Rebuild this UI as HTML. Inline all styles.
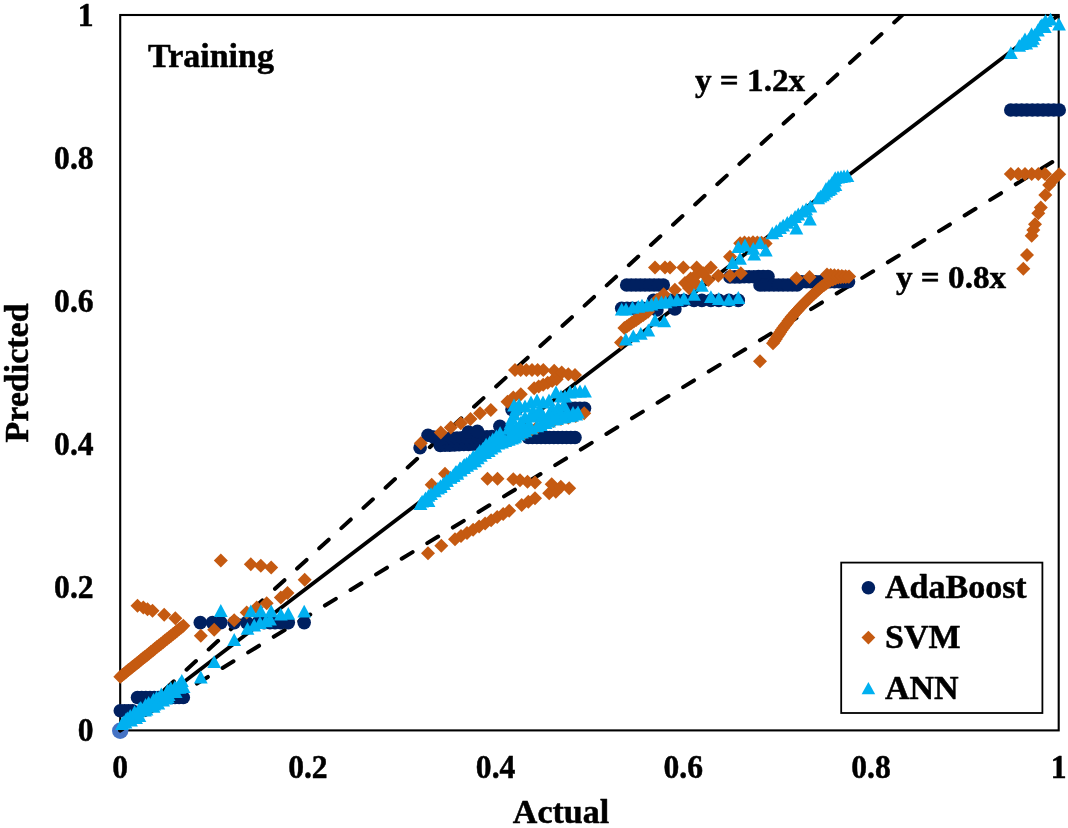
<!DOCTYPE html>
<html><head><meta charset="utf-8"><title>Training</title>
<style>html,body{margin:0;padding:0;background:#fff;}body{width:1068px;height:828px;position:relative;overflow:hidden;font-family:"Liberation Serif",serif;}</style>
</head><body>
<svg width="1068" height="828" viewBox="0 0 1068 828" style="position:absolute;left:0;top:0;will-change:transform">
<rect x="0" y="0" width="1068" height="828" fill="#fff"/>
<rect x="120.2" y="15.0" width="938.5" height="715.4" fill="none" stroke="#000" stroke-width="2.1"/>
<circle cx="120.2" cy="730.6999999999999" r="8.2" fill="#4472C4"/>
<defs><clipPath id="pc"><rect x="111.2" y="15.0" width="956.5" height="724.4"/></clipPath></defs>
<g clip-path="url(#pc)" fill="none" stroke="#000" stroke-linecap="round">
<path d="M120.2 730.4L902.3 15.0" stroke-width="4" stroke-dasharray="12.8 17.17"/>
<path d="M120.2 730.4L1058.7 158.1" stroke-width="4" stroke-dasharray="12.8 17.17"/>
<path d="M120.2 730.4L1058.7 15.0" stroke-width="3.8" stroke-linecap="butt"/>
</g>
<g><circle cx="120.3" cy="710.8" r="6.8" fill="#002060"/><circle cx="124.5" cy="710.8" r="6.8" fill="#002060"/><circle cx="128.5" cy="710.8" r="6.8" fill="#002060"/><circle cx="132.5" cy="710.8" r="6.8" fill="#002060"/><circle cx="137.5" cy="697.5" r="6.8" fill="#002060"/><circle cx="141.7" cy="697.5" r="6.8" fill="#002060"/><circle cx="145.8" cy="697.5" r="6.8" fill="#002060"/><circle cx="150.0" cy="697.5" r="6.8" fill="#002060"/><circle cx="154.2" cy="697.5" r="6.8" fill="#002060"/><circle cx="158.3" cy="697.5" r="6.8" fill="#002060"/><circle cx="162.5" cy="697.5" r="6.8" fill="#002060"/><circle cx="166.6" cy="697.5" r="6.8" fill="#002060"/><circle cx="170.8" cy="697.5" r="6.8" fill="#002060"/><circle cx="175.0" cy="697.5" r="6.8" fill="#002060"/><circle cx="179.1" cy="697.5" r="6.8" fill="#002060"/><circle cx="183.3" cy="697.5" r="6.8" fill="#002060"/><circle cx="200.3" cy="622.6" r="6.8" fill="#002060"/><circle cx="212.5" cy="622.6" r="6.8" fill="#002060"/><circle cx="220.8" cy="622.6" r="6.8" fill="#002060"/><circle cx="234.2" cy="622.6" r="6.8" fill="#002060"/><circle cx="246.7" cy="622.6" r="6.8" fill="#002060"/><circle cx="258.0" cy="622.6" r="6.8" fill="#002060"/><circle cx="264.0" cy="622.6" r="6.8" fill="#002060"/><circle cx="270.0" cy="622.6" r="6.8" fill="#002060"/><circle cx="275.0" cy="622.6" r="6.8" fill="#002060"/><circle cx="280.8" cy="622.6" r="6.8" fill="#002060"/><circle cx="288.3" cy="622.6" r="6.8" fill="#002060"/><circle cx="304.2" cy="622.6" r="6.8" fill="#002060"/><circle cx="420.1" cy="447.7" r="6.8" fill="#002060"/><circle cx="428.0" cy="435.3" r="6.8" fill="#002060"/><circle cx="433.5" cy="437.0" r="6.8" fill="#002060"/><circle cx="439.0" cy="438.5" r="6.8" fill="#002060"/><circle cx="440.3" cy="445.4" r="6.8" fill="#002060"/><circle cx="445.0" cy="445.2" r="6.8" fill="#002060"/><circle cx="449.7" cy="445.1" r="6.8" fill="#002060"/><circle cx="454.4" cy="444.9" r="6.8" fill="#002060"/><circle cx="459.1" cy="444.7" r="6.8" fill="#002060"/><circle cx="463.8" cy="444.5" r="6.8" fill="#002060"/><circle cx="468.5" cy="444.4" r="6.8" fill="#002060"/><circle cx="473.2" cy="444.2" r="6.8" fill="#002060"/><circle cx="477.9" cy="444.0" r="6.8" fill="#002060"/><circle cx="482.6" cy="443.8" r="6.8" fill="#002060"/><circle cx="487.3" cy="443.7" r="6.8" fill="#002060"/><circle cx="492.0" cy="443.5" r="6.8" fill="#002060"/><circle cx="447.0" cy="438.5" r="6.8" fill="#002060"/><circle cx="452.0" cy="438.3" r="6.8" fill="#002060"/><circle cx="457.0" cy="438.1" r="6.8" fill="#002060"/><circle cx="462.0" cy="437.8" r="6.8" fill="#002060"/><circle cx="467.0" cy="437.6" r="6.8" fill="#002060"/><circle cx="472.0" cy="437.4" r="6.8" fill="#002060"/><circle cx="477.0" cy="437.2" r="6.8" fill="#002060"/><circle cx="482.0" cy="436.9" r="6.8" fill="#002060"/><circle cx="487.0" cy="436.7" r="6.8" fill="#002060"/><circle cx="492.0" cy="436.5" r="6.8" fill="#002060"/><circle cx="468.4" cy="432.0" r="6.8" fill="#002060"/><circle cx="477.4" cy="431.4" r="6.8" fill="#002060"/><circle cx="499.9" cy="426.3" r="6.8" fill="#002060"/><circle cx="496.0" cy="440.0" r="6.8" fill="#002060"/><circle cx="503.0" cy="439.5" r="6.8" fill="#002060"/><circle cx="510.0" cy="439.0" r="6.8" fill="#002060"/><circle cx="528.3" cy="437.5" r="6.8" fill="#002060"/><circle cx="532.5" cy="437.5" r="6.8" fill="#002060"/><circle cx="536.8" cy="437.5" r="6.8" fill="#002060"/><circle cx="541.0" cy="437.5" r="6.8" fill="#002060"/><circle cx="545.3" cy="437.5" r="6.8" fill="#002060"/><circle cx="549.5" cy="437.5" r="6.8" fill="#002060"/><circle cx="553.8" cy="437.5" r="6.8" fill="#002060"/><circle cx="558.0" cy="437.5" r="6.8" fill="#002060"/><circle cx="562.3" cy="437.5" r="6.8" fill="#002060"/><circle cx="566.5" cy="437.5" r="6.8" fill="#002060"/><circle cx="570.8" cy="437.5" r="6.8" fill="#002060"/><circle cx="575.0" cy="437.5" r="6.8" fill="#002060"/><circle cx="512.0" cy="409.5" r="6.8" fill="#002060"/><circle cx="516.5" cy="409.3" r="6.8" fill="#002060"/><circle cx="566.0" cy="408.5" r="6.8" fill="#002060"/><circle cx="570.6" cy="408.4" r="6.8" fill="#002060"/><circle cx="575.2" cy="408.4" r="6.8" fill="#002060"/><circle cx="579.9" cy="408.4" r="6.8" fill="#002060"/><circle cx="584.5" cy="408.3" r="6.8" fill="#002060"/><circle cx="626.7" cy="285.0" r="6.8" fill="#002060"/><circle cx="631.3" cy="285.0" r="6.8" fill="#002060"/><circle cx="635.9" cy="285.0" r="6.8" fill="#002060"/><circle cx="640.4" cy="285.0" r="6.8" fill="#002060"/><circle cx="645.0" cy="285.0" r="6.8" fill="#002060"/><circle cx="649.6" cy="285.0" r="6.8" fill="#002060"/><circle cx="654.1" cy="285.0" r="6.8" fill="#002060"/><circle cx="658.7" cy="285.0" r="6.8" fill="#002060"/><circle cx="663.3" cy="285.0" r="6.8" fill="#002060"/><circle cx="621.7" cy="308.3" r="6.8" fill="#002060"/><circle cx="627.0" cy="308.3" r="6.8" fill="#002060"/><circle cx="632.2" cy="308.3" r="6.8" fill="#002060"/><circle cx="637.5" cy="308.3" r="6.8" fill="#002060"/><circle cx="642.7" cy="308.3" r="6.8" fill="#002060"/><circle cx="648.0" cy="308.3" r="6.8" fill="#002060"/><circle cx="656.9" cy="310.0" r="6.8" fill="#002060"/><circle cx="674.9" cy="308.9" r="6.8" fill="#002060"/><circle cx="653.6" cy="300.4" r="6.8" fill="#002060"/><circle cx="658.0" cy="300.4" r="6.8" fill="#002060"/><circle cx="662.0" cy="300.4" r="6.8" fill="#002060"/><circle cx="666.0" cy="300.4" r="6.8" fill="#002060"/><circle cx="670.4" cy="300.4" r="6.8" fill="#002060"/><circle cx="677.0" cy="300.4" r="6.8" fill="#002060"/><circle cx="683.9" cy="300.4" r="6.8" fill="#002060"/><circle cx="694.0" cy="300.4" r="6.8" fill="#002060"/><circle cx="701.9" cy="300.4" r="6.8" fill="#002060"/><circle cx="710.9" cy="300.4" r="6.8" fill="#002060"/><circle cx="718.8" cy="300.4" r="6.8" fill="#002060"/><circle cx="728.9" cy="300.4" r="6.8" fill="#002060"/><circle cx="738.3" cy="300.4" r="6.8" fill="#002060"/><circle cx="730.0" cy="277.0" r="6.8" fill="#002060"/><circle cx="734.8" cy="276.9" r="6.8" fill="#002060"/><circle cx="739.5" cy="276.9" r="6.8" fill="#002060"/><circle cx="744.2" cy="276.8" r="6.8" fill="#002060"/><circle cx="749.0" cy="276.8" r="6.8" fill="#002060"/><circle cx="753.8" cy="276.7" r="6.8" fill="#002060"/><circle cx="758.5" cy="276.6" r="6.8" fill="#002060"/><circle cx="763.2" cy="276.6" r="6.8" fill="#002060"/><circle cx="768.0" cy="276.5" r="6.8" fill="#002060"/><circle cx="760.0" cy="285.0" r="6.8" fill="#002060"/><circle cx="764.6" cy="285.0" r="6.8" fill="#002060"/><circle cx="769.2" cy="285.0" r="6.8" fill="#002060"/><circle cx="773.9" cy="285.0" r="6.8" fill="#002060"/><circle cx="778.5" cy="285.0" r="6.8" fill="#002060"/><circle cx="783.1" cy="285.0" r="6.8" fill="#002060"/><circle cx="787.8" cy="285.0" r="6.8" fill="#002060"/><circle cx="792.4" cy="285.0" r="6.8" fill="#002060"/><circle cx="797.0" cy="285.0" r="6.8" fill="#002060"/><circle cx="797.0" cy="281.7" r="6.8" fill="#002060"/><circle cx="801.7" cy="281.7" r="6.8" fill="#002060"/><circle cx="806.4" cy="281.7" r="6.8" fill="#002060"/><circle cx="811.0" cy="281.7" r="6.8" fill="#002060"/><circle cx="815.7" cy="281.7" r="6.8" fill="#002060"/><circle cx="820.4" cy="281.7" r="6.8" fill="#002060"/><circle cx="825.1" cy="281.7" r="6.8" fill="#002060"/><circle cx="829.8" cy="281.7" r="6.8" fill="#002060"/><circle cx="834.5" cy="281.7" r="6.8" fill="#002060"/><circle cx="839.1" cy="281.7" r="6.8" fill="#002060"/><circle cx="843.8" cy="281.7" r="6.8" fill="#002060"/><circle cx="848.5" cy="281.7" r="6.8" fill="#002060"/><circle cx="1010.8" cy="110.0" r="6.8" fill="#002060"/><circle cx="1016.2" cy="110.0" r="6.8" fill="#002060"/><circle cx="1021.6" cy="110.0" r="6.8" fill="#002060"/><circle cx="1026.9" cy="110.0" r="6.8" fill="#002060"/><circle cx="1032.3" cy="110.0" r="6.8" fill="#002060"/><circle cx="1037.7" cy="110.0" r="6.8" fill="#002060"/><circle cx="1043.1" cy="110.0" r="6.8" fill="#002060"/><circle cx="1048.4" cy="110.0" r="6.8" fill="#002060"/><circle cx="1053.8" cy="110.0" r="6.8" fill="#002060"/><circle cx="1059.2" cy="110.0" r="6.8" fill="#002060"/></g>
<g><path d="M120.3 669.7L127.3 676.7L120.3 683.7L113.3 676.7Z" fill="#C55A11"/><path d="M122.3 668.1L129.3 675.1L122.3 682.1L115.3 675.1Z" fill="#C55A11"/><path d="M124.4 666.4L131.4 673.4L124.4 680.4L117.4 673.4Z" fill="#C55A11"/><path d="M126.4 664.8L133.4 671.8L126.4 678.8L119.4 671.8Z" fill="#C55A11"/><path d="M128.4 663.1L135.4 670.1L128.4 677.1L121.4 670.1Z" fill="#C55A11"/><path d="M130.5 661.5L137.5 668.5L130.5 675.5L123.5 668.5Z" fill="#C55A11"/><path d="M132.5 659.8L139.5 666.8L132.5 673.8L125.5 666.8Z" fill="#C55A11"/><path d="M134.5 658.2L141.5 665.2L134.5 672.2L127.5 665.2Z" fill="#C55A11"/><path d="M136.6 656.6L143.6 663.6L136.6 670.6L129.6 663.6Z" fill="#C55A11"/><path d="M138.6 654.9L145.6 661.9L138.6 668.9L131.6 661.9Z" fill="#C55A11"/><path d="M140.6 653.3L147.6 660.3L140.6 667.3L133.6 660.3Z" fill="#C55A11"/><path d="M142.7 651.6L149.7 658.6L142.7 665.6L135.7 658.6Z" fill="#C55A11"/><path d="M144.7 650.0L151.7 657.0L144.7 664.0L137.7 657.0Z" fill="#C55A11"/><path d="M146.7 648.4L153.7 655.4L146.7 662.4L139.7 655.4Z" fill="#C55A11"/><path d="M148.8 646.7L155.8 653.7L148.8 660.7L141.8 653.7Z" fill="#C55A11"/><path d="M150.8 645.1L157.8 652.1L150.8 659.1L143.8 652.1Z" fill="#C55A11"/><path d="M152.8 643.4L159.8 650.4L152.8 657.4L145.8 650.4Z" fill="#C55A11"/><path d="M154.8 641.8L161.8 648.8L154.8 655.8L147.8 648.8Z" fill="#C55A11"/><path d="M156.9 640.1L163.9 647.1L156.9 654.1L149.9 647.1Z" fill="#C55A11"/><path d="M158.9 638.5L165.9 645.5L158.9 652.5L151.9 645.5Z" fill="#C55A11"/><path d="M160.9 636.9L167.9 643.9L160.9 650.9L153.9 643.9Z" fill="#C55A11"/><path d="M163.0 635.2L170.0 642.2L163.0 649.2L156.0 642.2Z" fill="#C55A11"/><path d="M165.0 633.6L172.0 640.6L165.0 647.6L158.0 640.6Z" fill="#C55A11"/><path d="M167.0 631.9L174.0 638.9L167.0 645.9L160.0 638.9Z" fill="#C55A11"/><path d="M169.1 630.3L176.1 637.3L169.1 644.3L162.1 637.3Z" fill="#C55A11"/><path d="M171.1 628.7L178.1 635.7L171.1 642.7L164.1 635.7Z" fill="#C55A11"/><path d="M173.1 627.0L180.1 634.0L173.1 641.0L166.1 634.0Z" fill="#C55A11"/><path d="M175.2 625.4L182.2 632.4L175.2 639.4L168.2 632.4Z" fill="#C55A11"/><path d="M177.2 623.7L184.2 630.7L177.2 637.7L170.2 630.7Z" fill="#C55A11"/><path d="M179.2 622.1L186.2 629.1L179.2 636.1L172.2 629.1Z" fill="#C55A11"/><path d="M181.3 620.4L188.3 627.4L181.3 634.4L174.3 627.4Z" fill="#C55A11"/><path d="M183.3 618.8L190.3 625.8L183.3 632.8L176.3 625.8Z" fill="#C55A11"/><path d="M137.5 598.8L144.5 605.8L137.5 612.8L130.5 605.8Z" fill="#C55A11"/><path d="M143.3 600.5L150.3 607.5L143.3 614.5L136.3 607.5Z" fill="#C55A11"/><path d="M147.5 602.2L154.5 609.2L147.5 616.2L140.5 609.2Z" fill="#C55A11"/><path d="M152.5 603.8L159.5 610.8L152.5 617.8L145.5 610.8Z" fill="#C55A11"/><path d="M164.2 607.7L171.2 614.7L164.2 621.7L157.2 614.7Z" fill="#C55A11"/><path d="M175.3 611.3L182.3 618.3L175.3 625.3L168.3 618.3Z" fill="#C55A11"/><path d="M200.8 628.8L207.8 635.8L200.8 642.8L193.8 635.8Z" fill="#C55A11"/><path d="M214.2 622.7L221.2 629.7L214.2 636.7L207.2 629.7Z" fill="#C55A11"/><path d="M234.2 613.3L241.2 620.3L234.2 627.3L227.2 620.3Z" fill="#C55A11"/><path d="M246.7 605.5L253.7 612.5L246.7 619.5L239.7 612.5Z" fill="#C55A11"/><path d="M256.7 600.5L263.7 607.5L256.7 614.5L249.7 607.5Z" fill="#C55A11"/><path d="M266.7 596.3L273.7 603.3L266.7 610.3L259.7 603.3Z" fill="#C55A11"/><path d="M280.8 590.5L287.8 597.5L280.8 604.5L273.8 597.5Z" fill="#C55A11"/><path d="M287.5 586.0L294.5 593.0L287.5 600.0L280.5 593.0Z" fill="#C55A11"/><path d="M304.7 572.7L311.7 579.7L304.7 586.7L297.7 579.7Z" fill="#C55A11"/><path d="M220.8 553.5L227.8 560.5L220.8 567.5L213.8 560.5Z" fill="#C55A11"/><path d="M250.8 557.2L257.8 564.2L250.8 571.2L243.8 564.2Z" fill="#C55A11"/><path d="M260.8 558.8L267.8 565.8L260.8 572.8L253.8 565.8Z" fill="#C55A11"/><path d="M271.2 560.5L278.2 567.5L271.2 574.5L264.2 567.5Z" fill="#C55A11"/><path d="M428.0 546.3L435.0 553.3L428.0 560.3L421.0 553.3Z" fill="#C55A11"/><path d="M441.3 538.8L448.3 545.8L441.3 552.8L434.3 545.8Z" fill="#C55A11"/><path d="M455.0 532.2L462.0 539.2L455.0 546.2L448.0 539.2Z" fill="#C55A11"/><path d="M461.0 529.0L468.0 536.0L461.0 543.0L454.0 536.0Z" fill="#C55A11"/><path d="M467.0 525.9L474.0 532.9L467.0 539.9L460.0 532.9Z" fill="#C55A11"/><path d="M473.1 522.7L480.1 529.7L473.1 536.7L466.1 529.7Z" fill="#C55A11"/><path d="M479.1 519.6L486.1 526.6L479.1 533.6L472.1 526.6Z" fill="#C55A11"/><path d="M485.1 516.4L492.1 523.4L485.1 530.4L478.1 523.4Z" fill="#C55A11"/><path d="M491.1 513.3L498.1 520.3L491.1 527.3L484.1 520.3Z" fill="#C55A11"/><path d="M497.2 510.1L504.2 517.1L497.2 524.1L490.2 517.1Z" fill="#C55A11"/><path d="M503.2 507.0L510.2 514.0L503.2 521.0L496.2 514.0Z" fill="#C55A11"/><path d="M509.2 503.8L516.2 510.8L509.2 517.8L502.2 510.8Z" fill="#C55A11"/><path d="M521.7 498.0L528.7 505.0L521.7 512.0L514.7 505.0Z" fill="#C55A11"/><path d="M528.3 494.7L535.3 501.7L528.3 508.7L521.3 501.7Z" fill="#C55A11"/><path d="M535.0 491.3L542.0 498.3L535.0 505.3L528.0 498.3Z" fill="#C55A11"/><path d="M549.2 486.3L556.2 493.3L549.2 500.3L542.2 493.3Z" fill="#C55A11"/><path d="M555.8 484.7L562.8 491.7L555.8 498.7L548.8 491.7Z" fill="#C55A11"/><path d="M551.7 477.2L558.7 484.2L551.7 491.2L544.7 484.2Z" fill="#C55A11"/><path d="M560.8 479.7L567.8 486.7L560.8 493.7L553.8 486.7Z" fill="#C55A11"/><path d="M569.2 481.3L576.2 488.3L569.2 495.3L562.2 488.3Z" fill="#C55A11"/><path d="M487.5 471.7L494.5 478.7L487.5 485.7L480.5 478.7Z" fill="#C55A11"/><path d="M497.5 471.7L504.5 478.7L497.5 485.7L490.5 478.7Z" fill="#C55A11"/><path d="M513.3 472.2L520.3 479.2L513.3 486.2L506.3 479.2Z" fill="#C55A11"/><path d="M520.0 473.3L527.0 480.3L520.0 487.3L513.0 480.3Z" fill="#C55A11"/><path d="M527.5 474.7L534.5 481.7L527.5 488.7L520.5 481.7Z" fill="#C55A11"/><path d="M535.0 475.5L542.0 482.5L535.0 489.5L528.0 482.5Z" fill="#C55A11"/><path d="M431.7 477.7L438.7 484.7L431.7 491.7L424.7 484.7Z" fill="#C55A11"/><path d="M445.0 466.7L452.0 473.7L445.0 480.7L438.0 473.7Z" fill="#C55A11"/><path d="M420.8 436.3L427.8 443.3L420.8 450.3L413.8 443.3Z" fill="#C55A11"/><path d="M440.8 425.5L447.8 432.5L440.8 439.5L433.8 432.5Z" fill="#C55A11"/><path d="M450.8 420.5L457.8 427.5L450.8 434.5L443.8 427.5Z" fill="#C55A11"/><path d="M460.8 416.3L467.8 423.3L460.8 430.3L453.8 423.3Z" fill="#C55A11"/><path d="M470.5 412.0L477.5 419.0L470.5 426.0L463.5 419.0Z" fill="#C55A11"/><path d="M480.0 406.3L487.0 413.3L480.0 420.3L473.0 413.3Z" fill="#C55A11"/><path d="M490.8 403.0L497.8 410.0L490.8 417.0L483.8 410.0Z" fill="#C55A11"/><path d="M507.5 394.7L514.5 401.7L507.5 408.7L500.5 401.7Z" fill="#C55A11"/><path d="M513.3 390.5L520.3 397.5L513.3 404.5L506.3 397.5Z" fill="#C55A11"/><path d="M520.8 387.2L527.8 394.2L520.8 401.2L513.8 394.2Z" fill="#C55A11"/><path d="M534.2 381.3L541.2 388.3L534.2 395.3L527.2 388.3Z" fill="#C55A11"/><path d="M538.7 379.5L545.7 386.5L538.7 393.5L531.7 386.5Z" fill="#C55A11"/><path d="M543.2 377.7L550.2 384.7L543.2 391.7L536.2 384.7Z" fill="#C55A11"/><path d="M547.7 375.8L554.7 382.8L547.7 389.8L540.7 382.8Z" fill="#C55A11"/><path d="M552.2 374.0L559.2 381.0L552.2 388.0L545.2 381.0Z" fill="#C55A11"/><path d="M556.7 372.2L563.7 379.2L556.7 386.2L549.7 379.2Z" fill="#C55A11"/><path d="M515.0 363.0L522.0 370.0L515.0 377.0L508.0 370.0Z" fill="#C55A11"/><path d="M520.7 363.0L527.7 370.0L520.7 377.0L513.7 370.0Z" fill="#C55A11"/><path d="M526.3 363.0L533.3 370.0L526.3 377.0L519.3 370.0Z" fill="#C55A11"/><path d="M532.0 363.0L539.0 370.0L532.0 377.0L525.0 370.0Z" fill="#C55A11"/><path d="M537.6 363.0L544.6 370.0L537.6 377.0L530.6 370.0Z" fill="#C55A11"/><path d="M543.3 363.0L550.3 370.0L543.3 377.0L536.3 370.0Z" fill="#C55A11"/><path d="M554.2 363.8L561.2 370.8L554.2 377.8L547.2 370.8Z" fill="#C55A11"/><path d="M561.7 365.5L568.7 372.5L561.7 379.5L554.7 372.5Z" fill="#C55A11"/><path d="M568.3 367.2L575.3 374.2L568.3 381.2L561.3 374.2Z" fill="#C55A11"/><path d="M575.0 368.0L582.0 375.0L575.0 382.0L568.0 375.0Z" fill="#C55A11"/><path d="M584.2 406.3L591.2 413.3L584.2 420.3L577.2 413.3Z" fill="#C55A11"/><path d="M525.0 425.7L532.0 432.7L525.0 439.7L518.0 432.7Z" fill="#C55A11"/><path d="M531.0 423.0L538.0 430.0L531.0 437.0L524.0 430.0Z" fill="#C55A11"/><path d="M536.7 420.7L543.7 427.7L536.7 434.7L529.7 427.7Z" fill="#C55A11"/><path d="M545.0 417.3L552.0 424.3L545.0 431.3L538.0 424.3Z" fill="#C55A11"/><path d="M553.3 414.0L560.3 421.0L553.3 428.0L546.3 421.0Z" fill="#C55A11"/><path d="M561.0 412.0L568.0 419.0L561.0 426.0L554.0 419.0Z" fill="#C55A11"/><path d="M568.3 410.7L575.3 417.7L568.3 424.7L561.3 417.7Z" fill="#C55A11"/><path d="M575.8 409.0L582.8 416.0L575.8 423.0L568.8 416.0Z" fill="#C55A11"/><path d="M655.0 260.5L662.0 267.5L655.0 274.5L648.0 267.5Z" fill="#C55A11"/><path d="M665.0 260.5L672.0 267.5L665.0 274.5L658.0 267.5Z" fill="#C55A11"/><path d="M670.0 260.5L677.0 267.5L670.0 274.5L663.0 267.5Z" fill="#C55A11"/><path d="M683.3 260.5L690.3 267.5L683.3 274.5L676.3 267.5Z" fill="#C55A11"/><path d="M696.7 260.5L703.7 267.5L696.7 274.5L689.7 267.5Z" fill="#C55A11"/><path d="M710.8 260.5L717.8 267.5L710.8 274.5L703.8 267.5Z" fill="#C55A11"/><path d="M621.0 335.6L628.0 342.6L621.0 349.6L614.0 342.6Z" fill="#C55A11"/><path d="M624.4 321.0L631.4 328.0L624.4 335.0L617.4 328.0Z" fill="#C55A11"/><path d="M626.8 319.4L633.8 326.4L626.8 333.4L619.8 326.4Z" fill="#C55A11"/><path d="M629.1 317.7L636.1 324.7L629.1 331.7L622.1 324.7Z" fill="#C55A11"/><path d="M631.5 316.1L638.5 323.1L631.5 330.1L624.5 323.1Z" fill="#C55A11"/><path d="M633.8 314.5L640.8 321.5L633.8 328.5L626.8 321.5Z" fill="#C55A11"/><path d="M636.2 312.9L643.2 319.9L636.2 326.9L629.2 319.9Z" fill="#C55A11"/><path d="M638.6 311.2L645.6 318.2L638.6 325.2L631.6 318.2Z" fill="#C55A11"/><path d="M640.9 309.6L647.9 316.6L640.9 323.6L633.9 316.6Z" fill="#C55A11"/><path d="M643.3 308.0L650.3 315.0L643.3 322.0L636.3 315.0Z" fill="#C55A11"/><path d="M645.6 306.3L652.6 313.3L645.6 320.3L638.6 313.3Z" fill="#C55A11"/><path d="M648.0 304.7L655.0 311.7L648.0 318.7L641.0 311.7Z" fill="#C55A11"/><path d="M652.0 298.5L659.0 305.5L652.0 312.5L645.0 305.5Z" fill="#C55A11"/><path d="M656.9 292.9L663.9 299.9L656.9 306.9L649.9 299.9Z" fill="#C55A11"/><path d="M663.7 287.3L670.7 294.3L663.7 301.3L656.7 294.3Z" fill="#C55A11"/><path d="M674.9 282.8L681.9 289.8L674.9 296.8L667.9 289.8Z" fill="#C55A11"/><path d="M685.0 276.1L692.0 283.1L685.0 290.1L678.0 283.1Z" fill="#C55A11"/><path d="M690.7 271.6L697.7 278.6L690.7 285.6L683.7 278.6Z" fill="#C55A11"/><path d="M697.4 267.1L704.4 274.1L697.4 281.1L690.4 274.1Z" fill="#C55A11"/><path d="M689.0 281.0L696.0 288.0L689.0 295.0L682.0 288.0Z" fill="#C55A11"/><path d="M695.5 276.0L702.5 283.0L695.5 290.0L688.5 283.0Z" fill="#C55A11"/><path d="M708.3 273.0L715.3 280.0L708.3 287.0L701.3 280.0Z" fill="#C55A11"/><path d="M718.3 268.8L725.3 275.8L718.3 282.8L711.3 275.8Z" fill="#C55A11"/><path d="M730.0 268.8L737.0 275.8L730.0 282.8L723.0 275.8Z" fill="#C55A11"/><path d="M740.8 266.3L747.8 273.3L740.8 280.3L733.8 273.3Z" fill="#C55A11"/><path d="M730.0 249.7L737.0 256.7L730.0 263.7L723.0 256.7Z" fill="#C55A11"/><path d="M703.3 266.3L710.3 273.3L703.3 280.3L696.3 273.3Z" fill="#C55A11"/><path d="M740.2 236.3L747.2 243.3L740.2 250.3L733.2 243.3Z" fill="#C55A11"/><path d="M744.5 235.6L751.5 242.6L744.5 249.6L737.5 242.6Z" fill="#C55A11"/><path d="M748.8 235.9L755.8 242.9L748.8 249.9L741.8 242.9Z" fill="#C55A11"/><path d="M753.0 235.3L760.0 242.3L753.0 249.3L746.0 242.3Z" fill="#C55A11"/><path d="M757.3 235.5L764.3 242.5L757.3 249.5L750.3 242.5Z" fill="#C55A11"/><path d="M761.5 235.8L768.5 242.8L761.5 249.8L754.5 242.8Z" fill="#C55A11"/><path d="M765.6 236.4L772.6 243.4L765.6 250.4L758.6 243.4Z" fill="#C55A11"/><path d="M796.5 271.3L803.5 278.3L796.5 285.3L789.5 278.3Z" fill="#C55A11"/><path d="M809.5 270.0L816.5 277.0L809.5 284.0L802.5 277.0Z" fill="#C55A11"/><path d="M760.0 354.2L767.0 361.2L760.0 368.2L753.0 361.2Z" fill="#C55A11"/><path d="M773.0 336.3L780.0 343.3L773.0 350.3L766.0 343.3Z" fill="#C55A11"/><path d="M774.5 334.1L781.5 341.1L774.5 348.1L767.5 341.1Z" fill="#C55A11"/><path d="M775.9 331.9L782.9 338.9L775.9 345.9L768.9 338.9Z" fill="#C55A11"/><path d="M777.4 329.6L784.4 336.6L777.4 343.6L770.4 336.6Z" fill="#C55A11"/><path d="M778.8 327.4L785.8 334.4L778.8 341.4L771.8 334.4Z" fill="#C55A11"/><path d="M780.2 325.2L787.2 332.2L780.2 339.2L773.2 332.2Z" fill="#C55A11"/><path d="M781.7 323.0L788.7 330.0L781.7 337.0L774.7 330.0Z" fill="#C55A11"/><path d="M783.4 320.8L790.4 327.8L783.4 334.8L776.4 327.8Z" fill="#C55A11"/><path d="M785.0 318.6L792.0 325.6L785.0 332.6L778.0 325.6Z" fill="#C55A11"/><path d="M786.7 316.4L793.7 323.4L786.7 330.4L779.7 323.4Z" fill="#C55A11"/><path d="M788.4 314.1L795.4 321.1L788.4 328.1L781.4 321.1Z" fill="#C55A11"/><path d="M790.0 311.9L797.0 318.9L790.0 325.9L783.0 318.9Z" fill="#C55A11"/><path d="M791.7 309.7L798.7 316.7L791.7 323.7L784.7 316.7Z" fill="#C55A11"/><path d="M793.4 307.9L800.4 314.9L793.4 321.9L786.4 314.9Z" fill="#C55A11"/><path d="M795.0 306.1L802.0 313.1L795.0 320.1L788.0 313.1Z" fill="#C55A11"/><path d="M796.7 304.2L803.7 311.2L796.7 318.2L789.7 311.2Z" fill="#C55A11"/><path d="M798.4 302.4L805.4 309.4L798.4 316.4L791.4 309.4Z" fill="#C55A11"/><path d="M800.0 300.6L807.0 307.6L800.0 314.6L793.0 307.6Z" fill="#C55A11"/><path d="M801.7 298.8L808.7 305.8L801.7 312.8L794.7 305.8Z" fill="#C55A11"/><path d="M803.7 296.8L810.7 303.8L803.7 310.8L796.7 303.8Z" fill="#C55A11"/><path d="M805.7 294.8L812.7 301.8L805.7 308.8L798.7 301.8Z" fill="#C55A11"/><path d="M807.7 292.8L814.7 299.8L807.7 306.8L800.7 299.8Z" fill="#C55A11"/><path d="M809.7 290.8L816.7 297.8L809.7 304.8L802.7 297.8Z" fill="#C55A11"/><path d="M811.7 288.8L818.7 295.8L811.7 302.8L804.7 295.8Z" fill="#C55A11"/><path d="M813.7 287.0L820.7 294.0L813.7 301.0L806.7 294.0Z" fill="#C55A11"/><path d="M815.7 285.2L822.7 292.2L815.7 299.2L808.7 292.2Z" fill="#C55A11"/><path d="M817.7 283.3L824.7 290.3L817.7 297.3L810.7 290.3Z" fill="#C55A11"/><path d="M819.7 281.5L826.7 288.5L819.7 295.5L812.7 288.5Z" fill="#C55A11"/><path d="M821.7 279.7L828.7 286.7L821.7 293.7L814.7 286.7Z" fill="#C55A11"/><path d="M823.8 278.2L830.8 285.2L823.8 292.2L816.8 285.2Z" fill="#C55A11"/><path d="M825.9 276.8L832.9 283.8L825.9 290.8L818.9 283.8Z" fill="#C55A11"/><path d="M827.9 275.3L834.9 282.3L827.9 289.3L820.9 282.3Z" fill="#C55A11"/><path d="M830.0 273.8L837.0 280.8L830.0 287.8L823.0 280.8Z" fill="#C55A11"/><path d="M832.8 272.7L839.8 279.7L832.8 286.7L825.8 279.7Z" fill="#C55A11"/><path d="M835.5 271.6L842.5 278.6L835.5 285.6L828.5 278.6Z" fill="#C55A11"/><path d="M838.3 270.5L845.3 277.5L838.3 284.5L831.3 277.5Z" fill="#C55A11"/><path d="M840.8 270.3L847.8 277.3L840.8 284.3L833.8 277.3Z" fill="#C55A11"/><path d="M843.3 270.1L850.3 277.1L843.3 284.1L836.3 277.1Z" fill="#C55A11"/><path d="M845.8 269.9L852.8 276.9L845.8 283.9L838.8 276.9Z" fill="#C55A11"/><path d="M848.3 269.7L855.3 276.7L848.3 283.7L841.3 276.7Z" fill="#C55A11"/><path d="M827.0 267.6L834.0 274.6L827.0 281.6L820.0 274.6Z" fill="#C55A11"/><path d="M830.7 267.9L837.7 274.9L830.7 281.9L823.7 274.9Z" fill="#C55A11"/><path d="M834.4 268.3L841.4 275.3L834.4 282.3L827.4 275.3Z" fill="#C55A11"/><path d="M838.1 268.6L845.1 275.6L838.1 282.6L831.1 275.6Z" fill="#C55A11"/><path d="M841.8 268.9L848.8 275.9L841.8 282.9L834.8 275.9Z" fill="#C55A11"/><path d="M845.5 269.3L852.5 276.3L845.5 283.3L838.5 276.3Z" fill="#C55A11"/><path d="M849.2 269.6L856.2 276.6L849.2 283.6L842.2 276.6Z" fill="#C55A11"/><path d="M1010.8 167.0L1017.8 174.0L1010.8 181.0L1003.8 174.0Z" fill="#C55A11"/><path d="M1018.3 167.0L1025.3 174.0L1018.3 181.0L1011.3 174.0Z" fill="#C55A11"/><path d="M1025.0 167.0L1032.0 174.0L1025.0 181.0L1018.0 174.0Z" fill="#C55A11"/><path d="M1031.7 167.0L1038.7 174.0L1031.7 181.0L1024.7 174.0Z" fill="#C55A11"/><path d="M1038.3 167.0L1045.3 174.0L1038.3 181.0L1031.3 174.0Z" fill="#C55A11"/><path d="M1045.0 167.0L1052.0 174.0L1045.0 181.0L1038.0 174.0Z" fill="#C55A11"/><path d="M1059.2 167.2L1066.2 174.2L1059.2 181.2L1052.2 174.2Z" fill="#C55A11"/><path d="M1052.5 173.8L1059.5 180.8L1052.5 187.8L1045.5 180.8Z" fill="#C55A11"/><path d="M1049.2 178.0L1056.2 185.0L1049.2 192.0L1042.2 185.0Z" fill="#C55A11"/><path d="M1045.3 188.0L1052.3 195.0L1045.3 202.0L1038.3 195.0Z" fill="#C55A11"/><path d="M1040.8 200.5L1047.8 207.5L1040.8 214.5L1033.8 207.5Z" fill="#C55A11"/><path d="M1038.3 206.3L1045.3 213.3L1038.3 220.3L1031.3 213.3Z" fill="#C55A11"/><path d="M1035.0 217.2L1042.0 224.2L1035.0 231.2L1028.0 224.2Z" fill="#C55A11"/><path d="M1033.3 223.0L1040.3 230.0L1033.3 237.0L1026.3 230.0Z" fill="#C55A11"/><path d="M1031.7 228.8L1038.7 235.8L1031.7 242.8L1024.7 235.8Z" fill="#C55A11"/><path d="M1027.0 248.0L1034.0 255.0L1027.0 262.0L1020.0 255.0Z" fill="#C55A11"/><path d="M1023.3 261.7L1030.3 268.7L1023.3 275.7L1016.3 268.7Z" fill="#C55A11"/></g>
<g><path d="M122.0 717.1L128.9 729.9L115.1 729.9Z" fill="#00B0F0"/><path d="M123.3 715.6L130.2 728.4L116.4 728.4Z" fill="#00B0F0"/><path d="M125.5 715.6L132.4 728.4L118.6 728.4Z" fill="#00B0F0"/><path d="M125.9 712.7L132.8 725.5L119.0 725.5Z" fill="#00B0F0"/><path d="M127.3 711.4L134.2 724.2L120.4 724.2Z" fill="#00B0F0"/><path d="M131.0 713.6L137.9 726.4L124.1 726.4Z" fill="#00B0F0"/><path d="M130.2 709.0L137.1 721.8L123.3 721.8Z" fill="#00B0F0"/><path d="M133.0 709.8L139.9 722.6L126.1 722.6Z" fill="#00B0F0"/><path d="M136.1 711.1L143.0 723.9L129.2 723.9Z" fill="#00B0F0"/><path d="M134.6 705.3L141.5 718.1L127.7 718.1Z" fill="#00B0F0"/><path d="M139.4 709.2L146.3 722.0L132.5 722.0Z" fill="#00B0F0"/><path d="M138.5 704.4L145.4 717.2L131.6 717.2Z" fill="#00B0F0"/><path d="M139.3 702.1L146.2 714.9L132.4 714.9Z" fill="#00B0F0"/><path d="M140.8 701.1L147.8 713.9L133.9 713.9Z" fill="#00B0F0"/><path d="M144.9 703.8L151.8 716.6L138.0 716.6Z" fill="#00B0F0"/><path d="M146.5 702.8L153.4 715.6L139.6 715.6Z" fill="#00B0F0"/><path d="M145.6 698.0L152.5 710.8L138.7 710.8Z" fill="#00B0F0"/><path d="M148.0 698.2L154.9 711.0L141.1 711.0Z" fill="#00B0F0"/><path d="M148.7 695.9L155.6 708.7L141.8 708.7Z" fill="#00B0F0"/><path d="M153.6 699.9L160.5 712.7L146.7 712.7Z" fill="#00B0F0"/><path d="M154.4 697.6L161.3 710.4L147.5 710.4Z" fill="#00B0F0"/><path d="M153.5 692.8L160.4 705.6L146.6 705.6Z" fill="#00B0F0"/><path d="M158.3 696.7L165.2 709.5L151.4 709.5Z" fill="#00B0F0"/><path d="M156.6 690.7L163.5 703.5L149.7 703.5Z" fill="#00B0F0"/><path d="M159.0 690.9L165.9 703.7L152.1 703.7Z" fill="#00B0F0"/><path d="M163.1 693.6L170.0 706.4L156.2 706.4Z" fill="#00B0F0"/><path d="M161.3 687.6L168.2 700.4L154.4 700.4Z" fill="#00B0F0"/><path d="M166.2 691.6L173.1 704.4L159.3 704.4Z" fill="#00B0F0"/><path d="M167.8 690.5L174.7 703.3L160.9 703.3Z" fill="#00B0F0"/><path d="M168.6 688.2L175.5 701.0L161.7 701.0Z" fill="#00B0F0"/><path d="M167.7 683.5L174.6 696.3L160.8 696.3Z" fill="#00B0F0"/><path d="M170.1 683.7L177.0 696.5L163.2 696.5Z" fill="#00B0F0"/><path d="M170.8 681.4L177.7 694.2L163.9 694.2Z" fill="#00B0F0"/><path d="M175.7 685.3L182.6 698.1L168.8 698.1Z" fill="#00B0F0"/><path d="M174.8 680.5L181.7 693.3L167.9 693.3Z" fill="#00B0F0"/><path d="M177.2 680.8L184.1 693.6L170.3 693.6Z" fill="#00B0F0"/><path d="M179.6 681.0L186.5 693.8L172.7 693.8Z" fill="#00B0F0"/><path d="M179.5 677.4L186.4 690.2L172.6 690.2Z" fill="#00B0F0"/><path d="M183.6 680.1L190.5 692.9L176.7 692.9Z" fill="#00B0F0"/><path d="M181.8 674.1L188.8 686.9L174.9 686.9Z" fill="#00B0F0"/><path d="M200.8 670.6L207.7 683.4L193.9 683.4Z" fill="#00B0F0"/><path d="M214.2 655.3L221.1 668.1L207.3 668.1Z" fill="#00B0F0"/><path d="M234.2 633.1L241.1 645.9L227.3 645.9Z" fill="#00B0F0"/><path d="M220.8 604.1L227.7 616.9L213.9 616.9Z" fill="#00B0F0"/><path d="M247.5 621.9L254.4 634.7L240.6 634.7Z" fill="#00B0F0"/><path d="M254.2 618.6L261.1 631.4L247.3 631.4Z" fill="#00B0F0"/><path d="M260.0 616.1L266.9 628.9L253.1 628.9Z" fill="#00B0F0"/><path d="M265.8 614.4L272.7 627.2L258.9 627.2Z" fill="#00B0F0"/><path d="M270.0 612.8L276.9 625.6L263.1 625.6Z" fill="#00B0F0"/><path d="M250.8 604.4L257.7 617.2L243.9 617.2Z" fill="#00B0F0"/><path d="M260.8 604.4L267.7 617.2L253.9 617.2Z" fill="#00B0F0"/><path d="M271.2 604.4L278.1 617.2L264.3 617.2Z" fill="#00B0F0"/><path d="M280.8 607.8L287.7 620.6L273.9 620.6Z" fill="#00B0F0"/><path d="M288.3 606.9L295.2 619.7L281.4 619.7Z" fill="#00B0F0"/><path d="M304.2 604.8L311.1 617.6L297.3 617.6Z" fill="#00B0F0"/><path d="M420.5 497.1L427.4 509.9L413.6 509.9Z" fill="#00B0F0"/><path d="M428.5 494.1L435.4 506.9L421.6 506.9Z" fill="#00B0F0"/><path d="M422.1 494.7L429.0 507.5L415.2 507.5Z" fill="#00B0F0"/><path d="M425.5 491.4L432.4 504.2L418.6 504.2Z" fill="#00B0F0"/><path d="M428.5 489.0L435.4 501.8L421.6 501.8Z" fill="#00B0F0"/><path d="M431.0 487.1L437.9 499.9L424.1 499.9Z" fill="#00B0F0"/><path d="M434.9 484.4L441.8 497.2L428.0 497.2Z" fill="#00B0F0"/><path d="M438.0 481.6L444.9 494.4L431.1 494.4Z" fill="#00B0F0"/><path d="M440.6 480.3L447.5 493.1L433.7 493.1Z" fill="#00B0F0"/><path d="M444.1 477.1L451.0 489.9L437.2 489.9Z" fill="#00B0F0"/><path d="M446.6 473.9L453.5 486.7L439.7 486.7Z" fill="#00B0F0"/><path d="M450.6 470.8L457.5 483.6L443.7 483.6Z" fill="#00B0F0"/><path d="M453.3 468.3L460.2 481.1L446.4 481.1Z" fill="#00B0F0"/><path d="M456.7 465.2L463.6 478.0L449.8 478.0Z" fill="#00B0F0"/><path d="M460.3 461.8L467.2 474.6L453.4 474.6Z" fill="#00B0F0"/><path d="M463.5 458.9L470.4 471.7L456.6 471.7Z" fill="#00B0F0"/><path d="M466.6 456.8L473.5 469.6L459.7 469.6Z" fill="#00B0F0"/><path d="M470.0 453.9L476.9 466.7L463.1 466.7Z" fill="#00B0F0"/><path d="M472.9 450.4L479.8 463.2L466.0 463.2Z" fill="#00B0F0"/><path d="M477.1 447.7L484.0 460.5L470.2 460.5Z" fill="#00B0F0"/><path d="M479.8 444.1L486.7 456.9L472.9 456.9Z" fill="#00B0F0"/><path d="M483.3 441.7L490.2 454.5L476.4 454.5Z" fill="#00B0F0"/><path d="M486.1 437.8L493.0 450.6L479.2 450.6Z" fill="#00B0F0"/><path d="M489.7 435.5L496.6 448.3L482.8 448.3Z" fill="#00B0F0"/><path d="M492.8 432.6L499.7 445.4L485.9 445.4Z" fill="#00B0F0"/><path d="M496.4 429.4L503.3 442.2L489.5 442.2Z" fill="#00B0F0"/><path d="M500.1 426.2L507.0 439.0L493.2 439.0Z" fill="#00B0F0"/><path d="M440.5 479.2L447.4 492.0L433.6 492.0Z" fill="#00B0F0"/><path d="M443.5 476.8L450.4 489.6L436.6 489.6Z" fill="#00B0F0"/><path d="M446.9 473.9L453.8 486.7L440.0 486.7Z" fill="#00B0F0"/><path d="M450.5 471.0L457.4 483.8L443.6 483.8Z" fill="#00B0F0"/><path d="M453.7 469.2L460.6 482.0L446.8 482.0Z" fill="#00B0F0"/><path d="M457.3 467.0L464.2 479.8L450.4 479.8Z" fill="#00B0F0"/><path d="M460.8 463.6L467.7 476.4L453.9 476.4Z" fill="#00B0F0"/><path d="M464.1 461.3L471.0 474.1L457.2 474.1Z" fill="#00B0F0"/><path d="M467.2 459.0L474.1 471.8L460.3 471.8Z" fill="#00B0F0"/><path d="M471.2 456.9L478.1 469.7L464.3 469.7Z" fill="#00B0F0"/><path d="M475.1 454.4L482.0 467.2L468.2 467.2Z" fill="#00B0F0"/><path d="M477.8 451.5L484.7 464.3L470.9 464.3Z" fill="#00B0F0"/><path d="M480.9 448.9L487.8 461.7L474.0 461.7Z" fill="#00B0F0"/><path d="M485.0 446.3L491.9 459.1L478.1 459.1Z" fill="#00B0F0"/><path d="M488.7 444.1L495.6 456.9L481.8 456.9Z" fill="#00B0F0"/><path d="M491.5 441.6L498.4 454.4L484.6 454.4Z" fill="#00B0F0"/><path d="M495.2 439.7L502.1 452.5L488.3 452.5Z" fill="#00B0F0"/><path d="M498.4 436.7L505.3 449.5L491.5 449.5Z" fill="#00B0F0"/><path d="M455.6 465.3L462.5 478.1L448.7 478.1Z" fill="#00B0F0"/><path d="M459.9 461.4L466.8 474.2L453.0 474.2Z" fill="#00B0F0"/><path d="M464.3 458.0L471.2 470.8L457.4 470.8Z" fill="#00B0F0"/><path d="M469.7 454.1L476.6 466.9L462.8 466.9Z" fill="#00B0F0"/><path d="M473.8 450.0L480.7 462.8L466.9 462.8Z" fill="#00B0F0"/><path d="M478.2 446.5L485.1 459.3L471.3 459.3Z" fill="#00B0F0"/><path d="M482.8 442.4L489.7 455.2L475.9 455.2Z" fill="#00B0F0"/><path d="M488.4 439.2L495.3 452.0L481.5 452.0Z" fill="#00B0F0"/><path d="M491.7 435.9L498.6 448.7L484.8 448.7Z" fill="#00B0F0"/><path d="M496.4 432.2L503.3 445.0L489.5 445.0Z" fill="#00B0F0"/><path d="M508.5 422.0L515.4 434.8L501.6 434.8Z" fill="#00B0F0"/><path d="M510.5 416.4L517.4 429.2L503.6 429.2Z" fill="#00B0F0"/><path d="M512.0 412.0L518.9 424.8L505.1 424.8Z" fill="#00B0F0"/><path d="M514.3 407.8L521.2 420.6L507.4 420.6Z" fill="#00B0F0"/><path d="M516.1 402.6L523.0 415.4L509.2 415.4Z" fill="#00B0F0"/><path d="M502.0 435.6L508.9 448.4L495.1 448.4Z" fill="#00B0F0"/><path d="M505.3 434.3L512.2 447.1L498.4 447.1Z" fill="#00B0F0"/><path d="M508.7 432.9L515.6 445.7L501.8 445.7Z" fill="#00B0F0"/><path d="M512.0 431.6L518.9 444.4L505.1 444.4Z" fill="#00B0F0"/><path d="M515.3 429.6L522.2 442.4L508.4 442.4Z" fill="#00B0F0"/><path d="M518.7 427.6L525.6 440.4L511.8 440.4Z" fill="#00B0F0"/><path d="M522.0 425.6L528.9 438.4L515.1 438.4Z" fill="#00B0F0"/><path d="M524.3 423.3L531.2 436.1L517.4 436.1Z" fill="#00B0F0"/><path d="M526.7 420.9L533.6 433.7L519.8 433.7Z" fill="#00B0F0"/><path d="M529.0 418.6L535.9 431.4L522.1 431.4Z" fill="#00B0F0"/><path d="M511.0 426.6L517.9 439.4L504.1 439.4Z" fill="#00B0F0"/><path d="M516.0 421.6L522.9 434.4L509.1 434.4Z" fill="#00B0F0"/><path d="M521.0 415.6L527.9 428.4L514.1 428.4Z" fill="#00B0F0"/><path d="M514.0 430.6L520.9 443.4L507.1 443.4Z" fill="#00B0F0"/><path d="M521.0 424.6L527.9 437.4L514.1 437.4Z" fill="#00B0F0"/><path d="M533.0 404.1L539.9 416.9L526.1 416.9Z" fill="#00B0F0"/><path d="M539.5 403.1L546.4 415.9L532.6 415.9Z" fill="#00B0F0"/><path d="M552.0 401.6L558.9 414.4L545.1 414.4Z" fill="#00B0F0"/><path d="M558.0 400.6L564.9 413.4L551.1 413.4Z" fill="#00B0F0"/><path d="M564.0 398.6L570.9 411.4L557.1 411.4Z" fill="#00B0F0"/><path d="M514.0 398.6L520.9 411.4L507.1 411.4Z" fill="#00B0F0"/><path d="M519.0 398.1L525.9 410.9L512.1 410.9Z" fill="#00B0F0"/><path d="M525.0 399.6L531.9 412.4L518.1 412.4Z" fill="#00B0F0"/><path d="M531.0 395.6L537.9 408.4L524.1 408.4Z" fill="#00B0F0"/><path d="M537.0 393.6L543.9 406.4L530.1 406.4Z" fill="#00B0F0"/><path d="M543.0 395.6L549.9 408.4L536.1 408.4Z" fill="#00B0F0"/><path d="M549.0 393.6L555.9 406.4L542.1 406.4Z" fill="#00B0F0"/><path d="M556.0 385.6L562.9 398.4L549.1 398.4Z" fill="#00B0F0"/><path d="M561.0 389.6L567.9 402.4L554.1 402.4Z" fill="#00B0F0"/><path d="M565.0 389.6L571.9 402.4L558.1 402.4Z" fill="#00B0F0"/><path d="M570.0 385.6L576.9 398.4L563.1 398.4Z" fill="#00B0F0"/><path d="M575.0 384.6L581.9 397.4L568.1 397.4Z" fill="#00B0F0"/><path d="M580.0 384.6L586.9 397.4L573.1 397.4Z" fill="#00B0F0"/><path d="M585.0 384.6L591.9 397.4L578.1 397.4Z" fill="#00B0F0"/><path d="M525.0 410.6L531.9 423.4L518.1 423.4Z" fill="#00B0F0"/><path d="M531.0 409.6L537.9 422.4L524.1 422.4Z" fill="#00B0F0"/><path d="M537.0 409.1L543.9 421.9L530.1 421.9Z" fill="#00B0F0"/><path d="M543.0 408.6L549.9 421.4L536.1 421.4Z" fill="#00B0F0"/><path d="M549.0 408.1L555.9 420.9L542.1 420.9Z" fill="#00B0F0"/><path d="M555.0 407.6L561.9 420.4L548.1 420.4Z" fill="#00B0F0"/><path d="M561.0 407.1L567.9 419.9L554.1 419.9Z" fill="#00B0F0"/><path d="M567.0 406.6L573.9 419.4L560.1 419.4Z" fill="#00B0F0"/><path d="M573.0 406.1L579.9 418.9L566.1 418.9Z" fill="#00B0F0"/><path d="M578.0 405.6L584.9 418.4L571.1 418.4Z" fill="#00B0F0"/><path d="M525.5 424.5L532.4 437.3L518.6 437.3Z" fill="#00B0F0"/><path d="M531.5 421.8L538.4 434.6L524.6 434.6Z" fill="#00B0F0"/><path d="M537.2 419.5L544.1 432.3L530.3 432.3Z" fill="#00B0F0"/><path d="M545.5 416.1L552.4 428.9L538.6 428.9Z" fill="#00B0F0"/><path d="M553.8 412.8L560.7 425.6L546.9 425.6Z" fill="#00B0F0"/><path d="M561.5 410.8L568.4 423.6L554.6 423.6Z" fill="#00B0F0"/><path d="M568.8 409.5L575.7 422.3L561.9 422.3Z" fill="#00B0F0"/><path d="M576.3 407.8L583.2 420.6L569.4 420.6Z" fill="#00B0F0"/><path d="M540.8 418.1L547.7 430.9L533.9 430.9Z" fill="#00B0F0"/><path d="M549.0 414.6L555.9 427.4L542.1 427.4Z" fill="#00B0F0"/><path d="M557.0 412.1L563.9 424.9L550.1 424.9Z" fill="#00B0F0"/><path d="M564.5 410.4L571.4 423.2L557.6 423.2Z" fill="#00B0F0"/><path d="M572.0 408.9L578.9 421.7L565.1 421.7Z" fill="#00B0F0"/><path d="M625.8 332.8L632.7 345.6L618.9 345.6Z" fill="#00B0F0"/><path d="M633.3 329.4L640.2 342.2L626.4 342.2Z" fill="#00B0F0"/><path d="M640.8 326.9L647.7 339.7L633.9 339.7Z" fill="#00B0F0"/><path d="M648.3 323.6L655.2 336.4L641.4 336.4Z" fill="#00B0F0"/><path d="M655.0 313.6L661.9 326.4L648.1 326.4Z" fill="#00B0F0"/><path d="M664.2 314.4L671.1 327.2L657.3 327.2Z" fill="#00B0F0"/><path d="M621.7 302.8L628.6 315.6L614.8 315.6Z" fill="#00B0F0"/><path d="M626.0 302.6L632.9 315.4L619.1 315.4Z" fill="#00B0F0"/><path d="M632.5 300.9L639.4 313.7L625.6 313.7Z" fill="#00B0F0"/><path d="M638.3 300.0L645.2 312.8L631.4 312.8Z" fill="#00B0F0"/><path d="M642.0 298.7L648.9 311.5L635.1 311.5Z" fill="#00B0F0"/><path d="M647.2 298.7L654.1 311.5L640.3 311.5Z" fill="#00B0F0"/><path d="M651.5 297.8L658.4 310.6L644.6 310.6Z" fill="#00B0F0"/><path d="M656.1 296.2L663.0 309.0L649.2 309.0Z" fill="#00B0F0"/><path d="M661.4 295.6L668.3 308.4L654.5 308.4Z" fill="#00B0F0"/><path d="M665.6 295.5L672.5 308.3L658.7 308.3Z" fill="#00B0F0"/><path d="M670.4 293.8L677.3 306.6L663.5 306.6Z" fill="#00B0F0"/><path d="M677.0 293.1L683.9 305.9L670.1 305.9Z" fill="#00B0F0"/><path d="M683.9 291.9L690.8 304.7L677.0 304.7Z" fill="#00B0F0"/><path d="M694.0 287.9L700.9 300.7L687.1 300.7Z" fill="#00B0F0"/><path d="M701.9 278.9L708.8 291.7L695.0 291.7Z" fill="#00B0F0"/><path d="M710.9 290.2L717.8 303.0L704.0 303.0Z" fill="#00B0F0"/><path d="M718.8 292.1L725.7 304.9L711.9 304.9Z" fill="#00B0F0"/><path d="M728.9 293.0L735.8 305.8L722.0 305.8Z" fill="#00B0F0"/><path d="M738.3 291.1L745.2 303.9L731.4 303.9Z" fill="#00B0F0"/><path d="M732.5 256.1L739.4 268.9L725.6 268.9Z" fill="#00B0F0"/><path d="M740.0 251.9L746.9 264.7L733.1 264.7Z" fill="#00B0F0"/><path d="M738.3 240.3L745.2 253.1L731.4 253.1Z" fill="#00B0F0"/><path d="M745.0 238.6L751.9 251.4L738.1 251.4Z" fill="#00B0F0"/><path d="M753.3 241.9L760.2 254.7L746.4 254.7Z" fill="#00B0F0"/><path d="M760.0 236.1L766.9 248.9L753.1 248.9Z" fill="#00B0F0"/><path d="M765.8 243.6L772.7 256.4L758.9 256.4Z" fill="#00B0F0"/><path d="M754.2 247.8L761.1 260.6L747.3 260.6Z" fill="#00B0F0"/><path d="M772.3 226.5L779.2 239.3L765.4 239.3Z" fill="#00B0F0"/><path d="M776.3 224.2L783.2 237.0L769.4 237.0Z" fill="#00B0F0"/><path d="M780.1 221.3L787.0 234.1L773.2 234.1Z" fill="#00B0F0"/><path d="M783.2 218.7L790.1 231.5L776.3 231.5Z" fill="#00B0F0"/><path d="M787.3 216.0L794.2 228.8L780.4 228.8Z" fill="#00B0F0"/><path d="M791.2 213.4L798.1 226.2L784.3 226.2Z" fill="#00B0F0"/><path d="M795.1 210.1L802.0 222.9L788.2 222.9Z" fill="#00B0F0"/><path d="M798.3 207.6L805.2 220.4L791.4 220.4Z" fill="#00B0F0"/><path d="M802.7 204.6L809.6 217.4L795.8 217.4Z" fill="#00B0F0"/><path d="M806.1 202.4L813.0 215.2L799.2 215.2Z" fill="#00B0F0"/><path d="M810.4 199.7L817.3 212.5L803.5 212.5Z" fill="#00B0F0"/><path d="M796.4 221.6L803.3 234.4L789.5 234.4Z" fill="#00B0F0"/><path d="M809.9 212.6L816.8 225.4L803.0 225.4Z" fill="#00B0F0"/><path d="M818.2 191.4L825.1 204.2L811.3 204.2Z" fill="#00B0F0"/><path d="M820.4 189.8L827.3 202.6L813.5 202.6Z" fill="#00B0F0"/><path d="M822.7 188.4L829.6 201.2L815.8 201.2Z" fill="#00B0F0"/><path d="M824.4 187.0L831.3 199.8L817.5 199.8Z" fill="#00B0F0"/><path d="M826.3 184.6L833.2 197.4L819.4 197.4Z" fill="#00B0F0"/><path d="M828.7 183.1L835.6 195.9L821.8 195.9Z" fill="#00B0F0"/><path d="M830.9 181.9L837.8 194.7L824.0 194.7Z" fill="#00B0F0"/><path d="M833.1 179.5L840.0 192.3L826.2 192.3Z" fill="#00B0F0"/><path d="M835.4 178.1L842.3 190.9L828.5 190.9Z" fill="#00B0F0"/><path d="M826.0 182.1L832.9 194.9L819.1 194.9Z" fill="#00B0F0"/><path d="M829.0 179.1L835.9 191.9L822.1 191.9Z" fill="#00B0F0"/><path d="M832.0 176.1L838.9 188.9L825.1 188.9Z" fill="#00B0F0"/><path d="M835.0 173.6L841.9 186.4L828.1 186.4Z" fill="#00B0F0"/><path d="M835.2 171.3L842.1 184.1L828.3 184.1Z" fill="#00B0F0"/><path d="M838.0 170.6L844.9 183.4L831.1 183.4Z" fill="#00B0F0"/><path d="M841.0 170.1L847.9 182.9L834.1 182.9Z" fill="#00B0F0"/><path d="M844.0 169.6L850.9 182.4L837.1 182.4Z" fill="#00B0F0"/><path d="M847.4 169.2L854.3 182.0L840.5 182.0Z" fill="#00B0F0"/><path d="M1010.9 46.2L1017.8 59.0L1004.0 59.0Z" fill="#00B0F0"/><path d="M1019.2 39.0L1026.1 51.8L1012.3 51.8Z" fill="#00B0F0"/><path d="M1022.0 37.1L1028.9 49.9L1015.1 49.9Z" fill="#00B0F0"/><path d="M1025.0 32.4L1031.9 45.2L1018.1 45.2Z" fill="#00B0F0"/><path d="M1026.2 36.7L1033.1 49.5L1019.3 49.5Z" fill="#00B0F0"/><path d="M1028.5 33.1L1035.4 45.9L1021.6 45.9Z" fill="#00B0F0"/><path d="M1031.3 34.5L1038.2 47.3L1024.4 47.3Z" fill="#00B0F0"/><path d="M1031.6 27.6L1038.5 40.4L1024.7 40.4Z" fill="#00B0F0"/><path d="M1033.1 32.0L1040.0 44.8L1026.2 44.8Z" fill="#00B0F0"/><path d="M1034.6 28.3L1041.5 41.1L1027.7 41.1Z" fill="#00B0F0"/><path d="M1037.9 23.6L1044.8 36.4L1031.0 36.4Z" fill="#00B0F0"/><path d="M1040.4 19.6L1047.3 32.4L1033.5 32.4Z" fill="#00B0F0"/><path d="M1042.0 18.1L1048.9 30.9L1035.1 30.9Z" fill="#00B0F0"/><path d="M1044.8 20.3L1051.7 33.1L1037.9 33.1Z" fill="#00B0F0"/><path d="M1045.5 14.1L1052.4 26.9L1038.6 26.9Z" fill="#00B0F0"/><path d="M1050.6 12.7L1057.5 25.5L1043.7 25.5Z" fill="#00B0F0"/><path d="M1059.0 17.6L1065.9 30.4L1052.1 30.4Z" fill="#00B0F0"/></g>
<rect x="841.2" y="562.6" width="201.2" height="150.4" fill="#fff" stroke="#000" stroke-width="1.8"/>
<circle cx="868.4" cy="587.8" r="6.8" fill="#002060"/>
<path d="M868.4 630.7L875.3 637.6L868.4 644.5L861.5 637.6Z" fill="#C55A11"/>
<path d="M868.4 682.1L875.2 694.3L861.6 694.3Z" fill="#00B0F0"/>
<text transform="translate(885,598.3)" font-size="34" text-anchor="start" font-family="Liberation Serif, serif" font-weight="bold" fill="#000" stroke="#000" stroke-width="0.5" stroke-linejoin="round">AdaBoost</text>
<text transform="translate(885,648.4)" font-size="34" text-anchor="start" font-family="Liberation Serif, serif" font-weight="bold" fill="#000" stroke="#000" stroke-width="0.5" stroke-linejoin="round">SVM</text>
<text transform="translate(885,698.8)" font-size="34" text-anchor="start" font-family="Liberation Serif, serif" font-weight="bold" fill="#000" stroke="#000" stroke-width="0.5" stroke-linejoin="round">ANN</text>
<text transform="translate(148,66.9)" font-size="34" text-anchor="start" font-family="Liberation Serif, serif" font-weight="bold" fill="#000" stroke="#000" stroke-width="0.5" stroke-linejoin="round">Training</text>
<text transform="translate(561,823)" font-size="34" text-anchor="middle" font-family="Liberation Serif, serif" font-weight="bold" fill="#000" stroke="#000" stroke-width="0.5" stroke-linejoin="round">Actual</text>
<text transform="translate(27.9,373) rotate(-90)" font-size="34" text-anchor="middle" font-family="Liberation Serif, serif" font-weight="bold" fill="#000" stroke="#000" stroke-width="0.5" stroke-linejoin="round">Predicted</text>
<text transform="translate(120.2,777.5) scale(0.943,1)" font-size="33.5" text-anchor="middle" font-family="Liberation Serif, serif" font-weight="bold" fill="#000" stroke="#000" stroke-width="0.5" stroke-linejoin="round">0</text>
<text transform="translate(93.6,740.9) scale(0.943,1)" font-size="33.5" text-anchor="end" font-family="Liberation Serif, serif" font-weight="bold" fill="#000" stroke="#000" stroke-width="0.5" stroke-linejoin="round">0</text>
<text transform="translate(307.9,777.5) scale(0.943,1)" font-size="33.5" text-anchor="middle" font-family="Liberation Serif, serif" font-weight="bold" fill="#000" stroke="#000" stroke-width="0.5" stroke-linejoin="round">0.2</text>
<text transform="translate(93.6,597.8) scale(0.943,1)" font-size="33.5" text-anchor="end" font-family="Liberation Serif, serif" font-weight="bold" fill="#000" stroke="#000" stroke-width="0.5" stroke-linejoin="round">0.2</text>
<text transform="translate(495.6,777.5) scale(0.943,1)" font-size="33.5" text-anchor="middle" font-family="Liberation Serif, serif" font-weight="bold" fill="#000" stroke="#000" stroke-width="0.5" stroke-linejoin="round">0.4</text>
<text transform="translate(93.6,454.7) scale(0.943,1)" font-size="33.5" text-anchor="end" font-family="Liberation Serif, serif" font-weight="bold" fill="#000" stroke="#000" stroke-width="0.5" stroke-linejoin="round">0.4</text>
<text transform="translate(683.3,777.5) scale(0.943,1)" font-size="33.5" text-anchor="middle" font-family="Liberation Serif, serif" font-weight="bold" fill="#000" stroke="#000" stroke-width="0.5" stroke-linejoin="round">0.6</text>
<text transform="translate(93.6,311.7) scale(0.943,1)" font-size="33.5" text-anchor="end" font-family="Liberation Serif, serif" font-weight="bold" fill="#000" stroke="#000" stroke-width="0.5" stroke-linejoin="round">0.6</text>
<text transform="translate(871.0,777.5) scale(0.943,1)" font-size="33.5" text-anchor="middle" font-family="Liberation Serif, serif" font-weight="bold" fill="#000" stroke="#000" stroke-width="0.5" stroke-linejoin="round">0.8</text>
<text transform="translate(93.6,168.6) scale(0.943,1)" font-size="33.5" text-anchor="end" font-family="Liberation Serif, serif" font-weight="bold" fill="#000" stroke="#000" stroke-width="0.5" stroke-linejoin="round">0.8</text>
<text transform="translate(1058.7,777.5) scale(0.943,1)" font-size="33.5" text-anchor="middle" font-family="Liberation Serif, serif" font-weight="bold" fill="#000" stroke="#000" stroke-width="0.5" stroke-linejoin="round">1</text>
<text transform="translate(93.6,25.5) scale(0.943,1)" font-size="33.5" text-anchor="end" font-family="Liberation Serif, serif" font-weight="bold" fill="#000" stroke="#000" stroke-width="0.5" stroke-linejoin="round">1</text>
<text transform="translate(695,90.7) scale(1.07,1)" font-size="31" text-anchor="start" font-family="Liberation Serif, serif" font-weight="bold" fill="#000" stroke="#000" stroke-width="0.5" stroke-linejoin="round">y = 1.2x</text>
<text transform="translate(896,288) scale(1.07,1)" font-size="31" text-anchor="start" font-family="Liberation Serif, serif" font-weight="bold" fill="#000" stroke="#000" stroke-width="0.5" stroke-linejoin="round">y = 0.8x</text>
</svg>
</body></html>
